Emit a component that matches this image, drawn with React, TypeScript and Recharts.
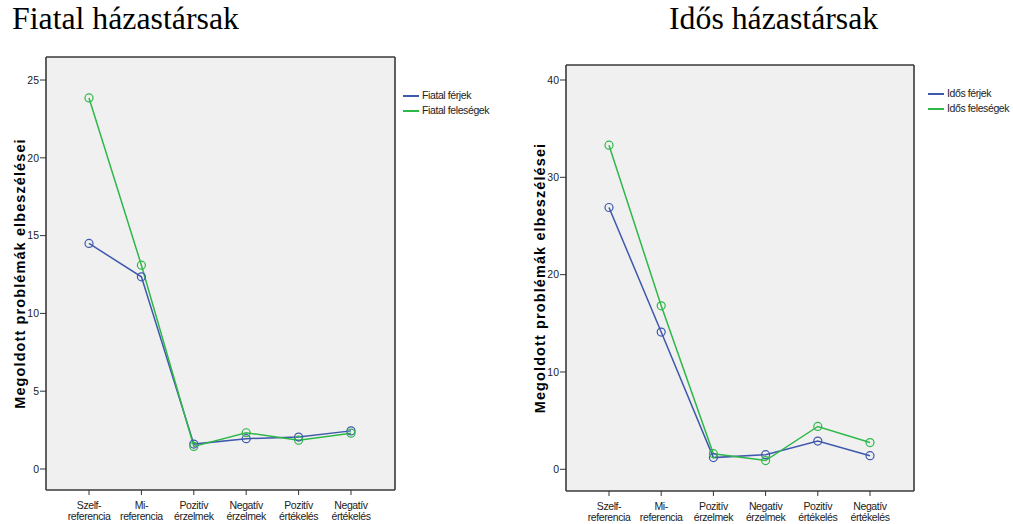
import React from 'react';
import { CartesianGrid, Line, LineChart, XAxis, YAxis } from 'recharts';

// categories shared by both panels
const categories = [
  'Szelf-|referencia',
  'Mi-|referencia',
  'Pozitív|érzelmek',
  'Negatív|érzelmek',
  'Pozitív|értékelés',
  'Negatív|értékelés',
];

const fiatalFerjek = [14.5, 12.35, 1.6, 1.95, 2.05, 2.45];
const fiatalFelesegek = [23.85, 13.1, 1.45, 2.33, 1.85, 2.3];
const idosFerjek = [26.9, 14.1, 1.2, 1.5, 2.9, 1.4];
const idosFelesegek = [33.3, 16.8, 1.6, 0.9, 4.4, 2.75];

const fiatalTicks = [0, 5, 10, 15, 20, 25];
const idosTicks = [0, 10, 20, 30, 40];

const BLUE = '#3e58ac';
const GREEN = '#2eb848';
const AXIS_FONT = 'Arial, "Liberation Sans", sans-serif';

function CategoryTick({ x, y, payload }: { x?: number; y?: number; payload?: { value: string } }) {
  const [a, b] = String(payload?.value ?? '').split('|');
  return (
    <g transform={`translate(${x},${y})`}>
      <text textAnchor="middle" fontSize={10.5} letterSpacing={-0.4} fontFamily={AXIS_FONT} fill="#222">
        <tspan x={0} dy={12}>{a}</tspan>
        <tspan x={0} dy={11}>{b}</tspan>
      </text>
    </g>
  );
}

function AxisTitle({ viewBox }: { viewBox?: { x: number; y: number; width: number; height: number } }) {
  if (!viewBox) return null;
  const cx = 20;
  const cy = viewBox.y + viewBox.height / 2;
  return (
    <text
      x={cx}
      y={cy}
      transform={`rotate(-90, ${cx}, ${cy})`}
      textAnchor="middle"
      dominantBaseline="central"
      fontSize={14.5}
      letterSpacing={1.1}
      fontWeight="bold"
      fontFamily={AXIS_FONT}
      fill="#000"
    >
      Megoldott problémák elbeszélései
    </text>
  );
}

function SeriesLegend({ names, left, top }: { names: string[]; left: number; top: number }) {
  const colors = [BLUE, GREEN];
  return (
    <div
      style={{
        position: 'absolute',
        left,
        top,
        fontFamily: AXIS_FONT,
        fontSize: 10.5,
        letterSpacing: -0.4,
        color: '#222',
        lineHeight: '15px',
        whiteSpace: 'nowrap',
      }}
    >
      {names.map((n, i) => (
        <div key={n} style={{ display: 'flex', alignItems: 'center' }}>
          <span style={{ display: 'inline-block', width: 16, height: 2, background: colors[i], marginRight: 3 }} />
          <span>{n}</span>
        </div>
      ))}
    </div>
  );
}

type PanelProps = {
  width: number;
  height: number;
  top: number;
  right: number;
  bottomAxis: number;
  domain: [number, number];
  ticks: number[];
  a: number[];
  b: number[];
  names: string[];
};

type GridArgs = { offset: { top: number; left: number; width: number; height: number } };

function Panel(p: PanelProps) {
  const data = categories.map((cat, i) => ({ cat, a: p.a[i], b: p.b[i] }));
  return (
    <LineChart width={p.width} height={p.height} data={data} margin={{ top: p.top, right: p.right, bottom: 0, left: 16 }}>
      <CartesianGrid
        fill="#f0f0f0"
        fillOpacity={1}
        stroke="#3a3a3a"
        strokeWidth={1.6}
        horizontalCoordinatesGenerator={({ offset }: GridArgs) => [offset.top, offset.top + offset.height]}
        verticalCoordinatesGenerator={({ offset }: GridArgs) => [offset.left, offset.left + offset.width]}
      />
      <XAxis
        dataKey="cat"
        type="category"
        padding={{ left: 43, right: 44 }}
        height={p.bottomAxis}
        axisLine={false}
        tickLine={{ stroke: '#333' }}
        tickSize={5}
        tick={<CategoryTick />}
        interval={0}
      />
      <YAxis
        type="number"
        domain={p.domain}
        ticks={p.ticks}
        allowDataOverflow
        width={30}
        axisLine={false}
        tickLine={{ stroke: '#333' }}
        tickSize={6}
        tickMargin={1}
        tick={{ fontSize: 10.5, fontFamily: AXIS_FONT, fill: '#222' }}
        label={<AxisTitle />}
      />
      <Line
        dataKey="a"
        name={p.names[0]}
        stroke={BLUE}
        strokeWidth={1.5}
        dot={{ r: 4, fill: 'none', stroke: BLUE, strokeWidth: 1.2 }}
        isAnimationActive={false}
      />
      <Line
        dataKey="b"
        name={p.names[1]}
        stroke={GREEN}
        strokeWidth={1.5}
        dot={{ r: 4, fill: 'none', stroke: GREEN, strokeWidth: 1.2 }}
        isAnimationActive={false}
      />
    </LineChart>
  );
}

const titleStyle: React.CSSProperties = {
  position: 'absolute',
  top: -1,
  fontFamily: '"Liberation Serif", "Times New Roman", serif',
  fontSize: 31.8,
  lineHeight: '40px',
  color: '#000',
  whiteSpace: 'nowrap',
};

export default function App() {
  return (
    <div style={{ position: 'absolute', left: 0, top: 0, width: 1013, height: 524, background: '#fff', overflow: 'hidden' }}>
      <div style={{ ...titleStyle, left: 12 }}>Fiatal házastársak</div>
      <div style={{ ...titleStyle, left: 669 }}>Idős házastársak</div>
      <div style={{ position: 'absolute', left: 0, top: 0 }}>
        <Panel
          width={520}
          height={524}
          top={57}
          right={125}
          bottomAxis={34}
          domain={[-1.35, 26.48]}
          ticks={fiatalTicks}
          a={fiatalFerjek}
          b={fiatalFelesegek}
          names={['Fiatal férjek', 'Fiatal feleségek']}
        />
      </div>
      <div style={{ position: 'absolute', left: 520, top: 0 }}>
        <Panel
          width={493}
          height={524}
          top={65}
          right={99}
          bottomAxis={33}
          domain={[-2.23, 41.54]}
          ticks={idosTicks}
          a={idosFerjek}
          b={idosFelesegek}
          names={['Idős férjek', 'Idős feleségek']}
        />
      </div>
      <SeriesLegend names={['Fiatal férjek', 'Fiatal feleségek']} left={403} top={88} />
      <SeriesLegend names={['Idős férjek', 'Idős feleségek']} left={928} top={86} />
    </div>
  );
}
